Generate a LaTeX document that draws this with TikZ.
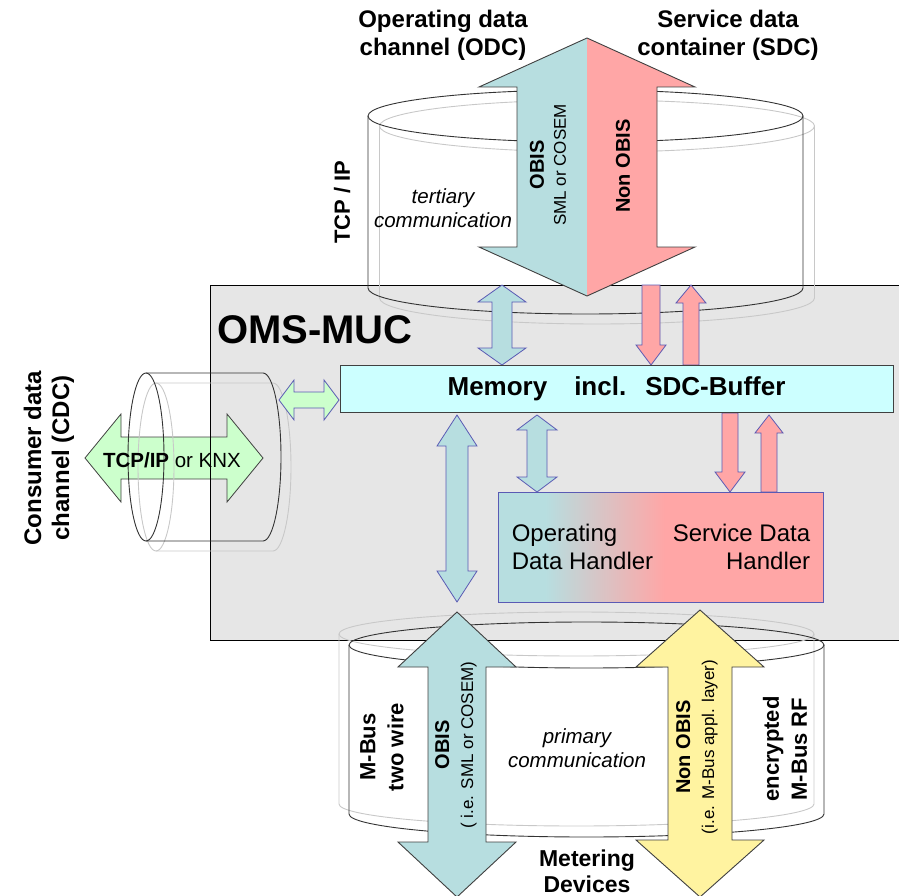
\documentclass[tikz,border=0pt]{standalone}
\usepackage{fontspec}
\setmainfont{Liberation Sans}
\usetikzlibrary{calc}
\usetikzlibrary{positioning}
\definecolor{boxgray}{HTML}{E6E6E6}
\definecolor{odcblue}{HTML}{B7DEE0}
\definecolor{sdcpink}{HTML}{FFA6A6}
\definecolor{cdcgreen}{HTML}{CCFFCC}
\definecolor{memcyan}{HTML}{CCFFFF}
\definecolor{mbusyellow}{HTML}{FFF3A0}
\definecolor{edgeblue}{HTML}{5A5AB4}
\definecolor{edgegray}{HTML}{404040}
\definecolor{shadowgray}{HTML}{C8C8C8}
\newcommand{\smalltxt}{\fontsize{17}{20}\selectfont}

% fat arrows: [style]{x}{top}{bottom}{head half width}{shaft half width}{head length}
\newcommand{\fatdbl}[7][]{%
	\draw[#1] (#2,#3) -- (#2+#5,#3+#7) -- (#2+#6,#3+#7) -- (#2+#6,#4-#7)
		-- (#2+#5,#4-#7) -- (#2,#4) -- (#2-#5,#4-#7) -- (#2-#6,#4-#7)
		-- (#2-#6,#3+#7) -- (#2-#5,#3+#7) -- cycle;}
\newcommand{\fatdown}[7][]{%
	\draw[#1] (#2-#6,#3) -- (#2+#6,#3) -- (#2+#6,#4-#7) -- (#2+#5,#4-#7)
		-- (#2,#4) -- (#2-#5,#4-#7) -- (#2-#6,#4-#7) -- cycle;}
\newcommand{\fatup}[7][]{%
	\draw[#1] (#2,#3) -- (#2+#5,#3+#7) -- (#2+#6,#3+#7) -- (#2+#6,#4)
		-- (#2-#6,#4) -- (#2-#6,#3+#7) -- (#2-#5,#3+#7) -- cycle;}
% [style]{y}{left}{right}{head half width}{shaft half width}{head length}
\newcommand{\fathdbl}[7][]{%
	\draw[#1] (#3,#2) -- (#3+#7,#2-#5) -- (#3+#7,#2-#6) -- (#4-#7,#2-#6)
		-- (#4-#7,#2-#5) -- (#4,#2) -- (#4-#7,#2+#5) -- (#4-#7,#2+#6)
		-- (#3+#7,#2+#6) -- (#3+#7,#2+#5) -- cycle;}
% cylinders: [style]{cx}{top y}{bottom y}{x radius}{y radius}
\newcommand{\cylv}[6][]{%
	\draw[#1] (#2,#3) ellipse[x radius=#5pt, y radius=#6pt];
	\draw[#1] (#2-#5,#3) -- (#2-#5,#4) arc[start angle=180, end angle=360, x radius=#5pt, y radius=#6pt] -- (#2+#5,#3);}
% [style]{left x}{cy}{right x}{x radius}{y radius}
\newcommand{\cylh}[6][]{%
	\draw[#1] (#2,#3) ellipse[x radius=#5pt, y radius=#6pt];
	\draw[#1] (#2,#3-#6) -- (#4,#3-#6) arc[start angle=90, end angle=-90, x radius=#5pt, y radius=#6pt] -- (#2,#3+#6);}

\begin{document}
\begin{tikzpicture}[x=1pt, y=-1pt,
		lbl/.style = {inner sep=0pt, align=center},
		heading/.style = {lbl, font=\fontsize{24}{28}\selectfont\bfseries},
		side/.style = {lbl, rotate=90, font=\fontsize{22}{28}\selectfont\bfseries},
		commtext/.style = {lbl, font=\fontsize{20.5}{24}\selectfont\itshape},
		handtext/.style = {inner sep=0pt, font=\fontsize{24}{28}\selectfont},
		obis/.style = {lbl, rotate=90, font=\fontsize{20}{24}\selectfont},
		bigarrow/.style = {draw=edgegray, line width=0.9pt},
		fatblue/.style = {fill=odcblue, draw=edgeblue, line width=0.8pt},
		fatpink/.style = {fill=sdcpink, draw=edgeblue, line width=0.8pt},
		cylline/.style = {draw=black!80, line width=0.9pt},
		cylshadow/.style = {draw=shadowgray, line width=0.9pt},
		membox/.style = {draw=black!75, fill=memcyan, line width=0.8pt, minimum width=553pt,
			minimum height=47pt, inner sep=0pt, font=\fontsize{26}{30}\selectfont\bfseries},
		]
		\useasboundingbox (0,0) rectangle (899,896);
		\clip (0,0) rectangle (899,896);

		% OMS-MUC housing
		\fill[boxgray] (210,285) rectangle (905,640);
		\fathdbl[fill=cdcgreen, draw=edgegray, line width=0.8pt]{458}{85}{263}{44}{21}{36}
		\draw[line width=0.8pt] (210,285) rectangle (905,640);

		% channels
		\cylh[cylshadow]{156}{467}{273}{18}{84}
		\cylh[cylline]{146}{457}{263}{18}{84}
		\cylv[cylshadow]{597}{126}{298}{217.5}{26}
		\cylv[cylline]{585.5}{116}{288}{217.5}{26}
		\cylv[cylshadow]{576.5}{634}{804}{237.5}{22}
		\cylv[cylline]{586.5}{645}{814}{237.5}{23}

		% ODC / SDC arrow
		\fill[odcblue] (587,38) -- (479,87) -- (517,87) -- (517,247) -- (479,247) -- (587,296) -- cycle;
		\fill[sdcpink] (587,38) -- (695,87) -- (657,87) -- (657,247) -- (695,247) -- (587,296) -- cycle;
		\fatdbl[bigarrow]{587}{38}{296}{108}{70}{49}

		% metering arrows
		\fatdbl[bigarrow, fill=odcblue]{457}{612}{897}{59}{29}{55}
		\fatdbl[bigarrow, fill=mbusyellow]{700}{610}{897}{64}{32}{57}

		% inner arrows
		\fatdbl[fatblue]{502}{285}{365}{24}{10}{17}
		\fatdown[fatpink]{651}{285}{365}{15}{9}{20}
		\fatup[fatpink]{691}{285}{365}{15}{8}{18}
		\fatdbl[fatblue]{457}{415}{602}{20}{11}{31}
		\fatdbl[fatblue]{537}{415}{492}{20}{10}{15}
		\fatdown[fatpink]{730}{413}{492}{15}{8}{20}
		\fatup[fatpink]{769}{415}{492}{14}{8}{18}
		\fathdbl[fill=cdcgreen, draw=edgeblue, line width=0.8pt]{400}{279}{339}{20}{8}{15}

		% memory and handler
		\node[membox] (mem) at (616.5,388.5) {Memory\hspace{27pt}incl.\hspace{19pt}SDC-Buffer};
		\fill[odcblue] (498,492) rectangle (545,602);
		\shade[left color=odcblue, right color=sdcpink] (545,492) rectangle (665,602);
		\fill[sdcpink] (665,492) rectangle (823,602);
		\node[draw=edgeblue, line width=0.8pt, minimum width=325pt, minimum height=110pt] (hdl) at (660.5,547) {};
		\node[handtext, align=left, anchor=west, right=14pt of hdl.west] (odh) {Operating\\Data Handler};
		\node[handtext, align=right, anchor=east, left=13pt of hdl.east] (sdh) {Service Data\\Handler};

		% labels
		\node[anchor=base west, inner sep=0pt, font=\fontsize{40}{48}\selectfont\bfseries] (muc) at (217,343) {OMS-MUC};
		\node[heading] (odc) at (443,35) {Operating data\\channel (ODC)};
		\node[heading] (sdc) at (728,35) {Service data\\container (SDC)};
		\node[side] (tcpip) at (342,202) {TCP / IP};
		\node[commtext] (tert) at (443,208) {tertiary\\communication};
		\node[obis] (odcobis) at (548,165) {{\bfseries OBIS}\\[-2pt]{\smalltxt SML or COSEM}};
		\node[obis] (sdcnon) at (623,166) {{\bfseries Non OBIS}};
		\node[heading, rotate=90] (cdc) at (49,458) {Consumer data\\channel (CDC)};
		\node[lbl, font=\fontsize{20.5}{24}\selectfont] (knx) at (172,460) {{\bfseries TCP/IP} or KNX};
		\node[side] (wire) at (382,747) {M-Bus\\two wire};
		\node[obis] (mobis) at (456,745) {{\bfseries OBIS}\\{\smalltxt ( i.e. SML or COSEM)}};
		\node[commtext] (prim) at (577,748) {primary\\communication};
		\node[obis] (mnon) at (697,747) {{\bfseries Non OBIS}\\{\smalltxt (i.e. M-Bus appl. layer)}};
		\node[side] (rf) at (785,749) {encrypted\\M-Bus RF};
		\node[lbl, anchor=north, font=\fontsize{23}{26}\selectfont\bfseries] (meter) at (587,850) {Metering\\Devices};
	\end{tikzpicture}
\end{document}
